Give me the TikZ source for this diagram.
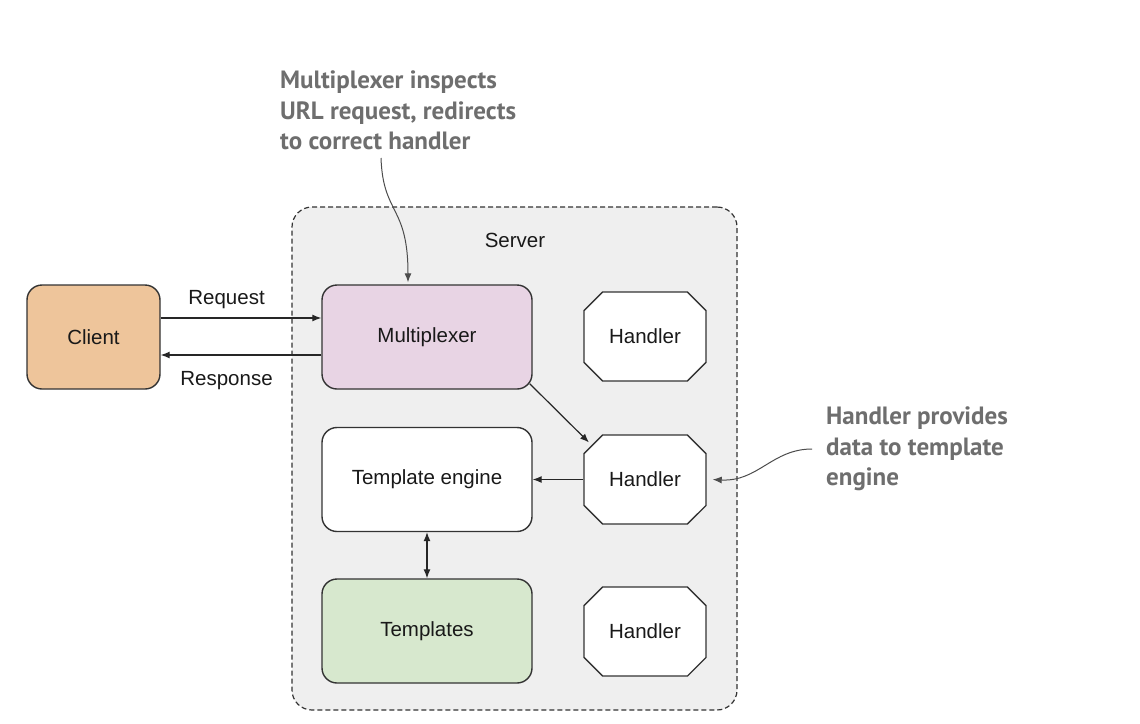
\documentclass[tikz,border=0pt]{standalone}
\usepackage{fontspec}
\setmainfont{Liberation Sans}
\newfontfamily\notefont{PT Sans}
\usetikzlibrary{shapes.misc,arrows.meta,calc}
\definecolor{srvfill}{HTML}{EFEFEF}
\definecolor{clientfill}{HTML}{EEC59B}
\definecolor{muxfill}{HTML}{E8D4E4}
\definecolor{tplfill}{HTML}{D7E8CE}
\definecolor{edge}{HTML}{333333}
\definecolor{notegray}{HTML}{6E6E6E}
\begin{document}
\begin{tikzpicture}[x=1pt,y=-1pt,
  every node/.style={font=\fontsize{20.5}{24}\selectfont, text=black!90},
  rbox/.style={draw=edge, line width=1.4pt, rounded corners=15pt, minimum width=210pt, minimum height=104pt, inner sep=0pt},
  hbox/.style={draw=edge, line width=1.4pt, fill=white, chamfered rectangle, chamfered rectangle xsep=11pt, chamfered rectangle ysep=11pt, minimum width=122pt, minimum height=89pt, inner sep=0pt},
  conn/.style={draw=black!85, line width=1.2pt, -{Latex[length=9pt,width=7pt]}},
  bconn/.style={draw=black!85, line width=1.2pt, {Latex[length=9pt,width=7pt]}-{Latex[length=9pt,width=7pt]}},
  note/.style={font=\notefont\bfseries\fontsize{25}{30.5}\selectfont, text=notegray, align=left, anchor=north west, inner sep=0pt},
  noteline/.style={draw=black!70, line width=1pt, -{Latex[length=9pt,width=7pt]}}
]
\useasboundingbox (0,0) rectangle (1140,723);
\fill[white] (0,0) rectangle (1140,723);

% server
\node[draw=black!80, dashed, dash pattern=on 5pt off 3pt, line width=1.2pt, fill=srvfill, rounded corners=20pt, minimum width=445pt, minimum height=503pt, inner sep=0pt] (server) at (514.5,458.5) {};
\node (srvlabel) at (515,240) {Server};

% nodes
\node[rbox, fill=clientfill, minimum width=133pt] (client) at (93.5,337) {Client};
\node[rbox, fill=muxfill] (mux) at (427,337) {Multiplexer};
\node[rbox, fill=white] (engine) at (427,479.5) {Template engine};
\node[rbox, fill=tplfill] (tpl) at (427,631) {Templates};
\node[hbox] (h1) at (645,336.5) {Handler};
\node[hbox] (h2) at (645,479.5) {Handler};
\node[hbox] (h3) at (645,631.5) {Handler};

% connectors
\draw[conn] ([yshift=19pt]client.east) -- node[above=5pt, pos=0.41] (reqlbl) {Request} ([yshift=19pt]mux.west);
\draw[conn] ([yshift=-18pt]mux.west) -- node[below=12pt, pos=0.59] (resplbl) {Response} ([yshift=-18pt]client.east);
\draw[conn] ([xshift=-3pt,yshift=6pt]mux.south east) -- ([xshift=-56pt,yshift=37pt]h2.center);
\draw[conn] (h2.west) -- (engine.east);
\draw[bconn] (engine.south) -- (tpl.north);

% annotations
\node[note] (note1) at (280,71) {Multiplexer inspects\\URL request, redirects\\to correct handler};
\node[note] (note2) at (826,407) {Handler provides\\data to template\\engine};
\coordinate (n1s) at (381,158);
\coordinate (n2s) at (812,449);
\draw[noteline] (n1s) .. controls (383,215) and (408,205) .. ([yshift=2pt]mux.north -| 408,0);
\draw[noteline] (n2s) .. controls (772,449) and (758,482) .. ([xshift=6pt]h2.east);
\end{tikzpicture}
\end{document}
